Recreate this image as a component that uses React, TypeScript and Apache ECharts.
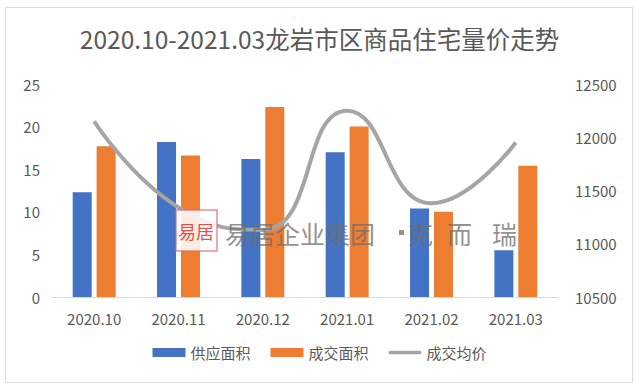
import React, { useEffect, useRef } from "react";
import * as echarts from "echarts";

const categories = ["2020.10", "2020.11", "2020.12", "2021.01", "2021.02", "2021.03"];
const supplyArea = [12.3, 18.2, 16.2, 17.0, 10.4, 5.5];
const dealArea = [17.7, 16.6, 22.3, 20.0, 10.0, 15.4];
const avgPrice = [12150, 11340, 11130, 12250, 11380, 11950];
const seriesNames = ["供应面积", "成交面积", "成交均价"];
const titleText = "2020.10-2021.03龙岩市区商品住宅量价走势";

export default function App() {
  const ref = useRef<HTMLDivElement>(null);
  useEffect(() => {
    if (!ref.current) return;
    const chart = echarts.init(ref.current, null, { renderer: "svg" });
    const font = "'Microsoft YaHei', 'Noto Sans CJK SC', 'Noto Sans', sans-serif";
    const gray = "#595959";
    const wm = "rgba(110,110,110,0.75)";
    const wmText = (text: string, x: number) => ({
      type: "text",
      x,
      y: 233,
      z: 100,
      silent: true,
      style: { text, fontSize: 25, fill: wm, verticalAlign: "middle", fontFamily: font },
    });
    chart.setOption({
      animation: false,
      backgroundColor: "#ffffff",
      textStyle: { fontFamily: font },
      title: {
        text: titleText,
        left: "center",
        top: 21,
        textStyle: { fontSize: 24.5, fontWeight: "normal", color: gray, fontFamily: font },
      },
      legend: {
        bottom: 25,
        left: "center",
        itemWidth: 33,
        itemHeight: 9,
        itemGap: 20,
        textStyle: { fontSize: 15, color: gray, fontFamily: font },
        data: [
          { name: seriesNames[0], icon: "rect" },
          { name: seriesNames[1], icon: "rect" },
          { name: seriesNames[2], icon: "path://M2,0 h32 a2,2 0 0 1 0,4 h-32 a2,2 0 0 1 0,-4 z" },
        ],
      },
      grid: { left: 52, right: 81, top: 84, bottom: 93, containLabel: false },
      xAxis: {
        type: "category",
        data: categories,
        axisLine: { lineStyle: { color: "#d9d9d9", width: 1 } },
        axisTick: { show: false },
        axisLabel: { fontSize: 15, color: gray, margin: 14, fontFamily: font },
      },
      yAxis: [
        {
          type: "value",
          min: 0,
          max: 25,
          interval: 5,
          splitLine: { show: false },
          axisLine: { show: false },
          axisTick: { show: false },
          axisLabel: { fontSize: 15, color: gray, margin: 12, fontFamily: font },
        },
        {
          type: "value",
          min: 10500,
          max: 12500,
          interval: 500,
          splitLine: { show: false },
          axisLine: { show: false },
          axisTick: { show: false },
          axisLabel: {
            fontSize: 15,
            color: gray,
            margin: 17,
            fontFamily: font,
            formatter: (v: number) => String(v),
          },
        },
      ],
      series: [
        {
          name: seriesNames[0],
          type: "bar",
          data: supplyArea,
          barWidth: 19,
          barGap: "26%",
          itemStyle: { color: "#4472c4" },
        },
        {
          name: seriesNames[1],
          type: "bar",
          data: dealArea,
          barWidth: 19,
          barGap: "26%",
          itemStyle: { color: "#ed7d31" },
        },
        {
          name: seriesNames[2],
          type: "line",
          yAxisIndex: 1,
          data: avgPrice,
          smooth: 0.5,
          symbol: "none",
          lineStyle: { color: "#a5a5a5", width: 4 },
          itemStyle: { color: "#a5a5a5" },
          z: 5,
        },
      ],
      graphic: [
        {
          type: "rect",
          shape: { x: 5.5, y: 7.5, width: 627, height: 375 },
          style: { fill: "none", stroke: "#d9d9d9", lineWidth: 1 },
          silent: true,
          z: -1,
        },
        {
          type: "rect",
          z: 100,
          silent: true,
          shape: { x: 176, y: 210, width: 41, height: 41 },
          style: { fill: "rgba(255,255,255,0.85)", stroke: "rgba(225,100,110,0.75)", lineWidth: 1.5 },
        },
        {
          type: "text",
          x: 178,
          y: 231,
          z: 101,
          silent: true,
          style: {
            text: "易居",
            fontSize: 18,
            fill: "rgba(215,50,50,0.85)",
            verticalAlign: "middle",
            fontFamily: font,
          },
        },
        wmText("易居企业集团", 225),
        {
          type: "rect",
          z: 100,
          silent: true,
          shape: { x: 399, y: 230, width: 5, height: 5 },
          style: { fill: wm },
        },
        wmText("克", 408),
        wmText("而", 447),
        wmText("瑞", 492),
      ],
    });
    return () => chart.dispose();
  }, []);
  return (
    <div
      ref={ref}
      style={{ position: "fixed", left: 0, top: 0, width: 639, height: 390, background: "#fff" }}
    />
  );
}
